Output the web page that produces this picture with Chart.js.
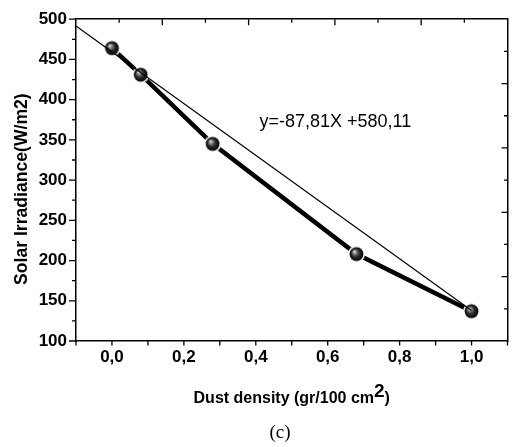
<!DOCTYPE html>
<html lang="en">
<head>
  <meta charset="UTF-8">
  <title>Solar irradiance vs dust density</title>
  <script src="https://cdn.jsdelivr.net/npm/chart.js"></script>
  <style>
    body, html {
      margin: 0;
      padding: 0;
      overflow: hidden;
      background: #fff;
    }
    canvas { display: block; }
  </style>
</head>
<body>
  <canvas id="dustChart" width="520" height="447"></canvas>

  <script>
    // Measured points
    const dustDensity = [0, 0.08, 0.28, 0.68, 1.0];
    const irradiance = [464, 431, 345, 208, 137];

    // Thin linear fit line, end points
    const fitX = [-0.1, 1.0];
    const fitY = [491.5, 138];

    const equationText = 'y=-87,81X +580,11';
    const equationAt = [0.41, 366]; // x value, y value of text baseline

    const yTitle = 'Solar Irradiance(W/m2)';
    const xTitleParts = ['Dust density (gr/100 cm', '2', ')'];
    const caption = '(c)';

    Chart.defaults.font.family = "'Liberation Sans', Arial, sans-serif";
    Chart.defaults.color = '#000';

    // Shiny ball marker with a white halo (gap in the line around markers)
    function sphere(r, ring) {
      const size = Math.ceil((r + ring) * 2);
      const c = document.createElement('canvas');
      c.width = c.height = size;
      const g = c.getContext('2d');
      const m = size / 2;
      g.fillStyle = '#fff';
      g.beginPath(); g.arc(m, m, r + ring, 0, Math.PI * 2); g.fill();
      const grad = g.createRadialGradient(m - r * 0.35, m - r * 0.4, 0, m, m, r);
      grad.addColorStop(0, '#ffffff');
      grad.addColorStop(0.2, '#a0a0a0');
      grad.addColorStop(0.55, '#303030');
      grad.addColorStop(1, '#000000');
      g.fillStyle = grad;
      g.beginPath(); g.arc(m, m, r, 0, Math.PI * 2); g.fill();
      return c;
    }
    const ball = sphere(6.9, 1.6);

    // Origin style tick marks: outward on bottom/left, inward on top/right
    const tickMarks = {
      id: 'tickMarks',
      afterDraw(chart) {
        const ctx = chart.ctx, a = chart.chartArea;
        const { x, y, x2, y2 } = chart.scales;
        ctx.save();
        ctx.strokeStyle = '#000';
        ctx.lineWidth = 1.3;
        ctx.beginPath();
        x.ticks.forEach(t => {
          const p = x.getPixelForValue(t.value);
          ctx.moveTo(p, a.bottom); ctx.lineTo(p, a.bottom + 4.5);
        });
        y.ticks.forEach(t => {
          const p = y.getPixelForValue(t.value);
          const len = t.value % 50 === 0 ? 7 : 4;
          ctx.moveTo(a.left, p); ctx.lineTo(a.left - len, p);
        });
        x2.ticks.forEach(t => {
          if (t.value <= x2.min || t.value >= x2.max) return;
          const p = x2.getPixelForValue(t.value);
          const len = t.value % 2 === 0 ? 6 : 3.5;
          ctx.moveTo(p, a.top); ctx.lineTo(p, a.top + len);
        });
        y2.ticks.forEach(t => {
          if (t.value <= y2.min || t.value >= y2.max) return;
          const p = y2.getPixelForValue(t.value);
          const len = t.value % 2 === 0 ? 6 : 3.5;
          ctx.moveTo(a.right, p); ctx.lineTo(a.right - len, p);
        });
        ctx.stroke();
        ctx.restore();
      }
    };

    // Equation, axis titles (x has a superscript), and caption
    const extraText = {
      id: 'extraText',
      afterDraw(chart) {
        const ctx = chart.ctx, a = chart.chartArea;
        const { x, y } = chart.scales;
        ctx.save();
        ctx.fillStyle = '#000';
        ctx.textBaseline = 'alphabetic';

        ctx.font = "18px 'Liberation Sans', Arial, sans-serif";
        ctx.textAlign = 'left';
        ctx.fillText(equationText, x.getPixelForValue(equationAt[0]), y.getPixelForValue(equationAt[1]));

        // y title, sits a little below the middle of the axis
        ctx.save();
        ctx.translate(27, (a.top + a.bottom) / 2 + 9);
        ctx.rotate(-Math.PI / 2);
        ctx.textAlign = 'center';
        ctx.font = "bold 17.6px 'Liberation Sans', Arial, sans-serif";
        ctx.fillText(yTitle, 0, 0);
        ctx.restore();

        const mainFont = "bold 16px 'Liberation Sans', Arial, sans-serif";
        const supFont = "bold 19px 'Liberation Sans', Arial, sans-serif";
        ctx.font = mainFont;
        const w0 = ctx.measureText(xTitleParts[0]).width;
        const w2 = ctx.measureText(xTitleParts[2]).width;
        ctx.font = supFont;
        const w1 = ctx.measureText(xTitleParts[1]).width;
        let sx = (a.left + a.right) / 2 - (w0 + w1 + w2) / 2;
        const base = a.bottom + 62;
        ctx.font = mainFont;
        ctx.fillText(xTitleParts[0], sx, base);
        sx += w0;
        ctx.font = supFont;
        ctx.fillText(xTitleParts[1], sx, base - 6);
        sx += w1;
        ctx.font = mainFont;
        ctx.fillText(xTitleParts[2], sx, base);

        ctx.font = "19px 'Liberation Serif', 'Times New Roman', serif";
        ctx.textAlign = 'center';
        ctx.fillText(caption, 280, 438);
        ctx.restore();
      }
    };

    const ctx = document.getElementById('dustChart').getContext('2d');
    new Chart(ctx, {
      type: 'line',
      data: {
        datasets: [
          {
            label: 'Fit',
            data: fitX.map((v, i) => ({ x: v, y: fitY[i] })),
            borderColor: '#000',
            borderWidth: 1.2,
            pointRadius: 0,
            fill: false
          },
          {
            label: 'Irradiance',
            data: dustDensity.map((v, i) => ({ x: v, y: irradiance[i] })),
            borderColor: '#000',
            borderWidth: 4.5,
            pointStyle: ball,
            pointRadius: 8,
            fill: false
          }
        ]
      },
      options: {
        responsive: false,
        animation: false,
        layout: { padding: 0 },
        scales: {
          x: {
            type: 'linear',
            position: 'bottom',
            min: -0.1,
            max: 1.1,
            afterFit: s => { s.height = 106; },
            grid: { display: false, drawTicks: false },
            border: { display: true, color: '#000', width: 1.5 },
            ticks: {
              stepSize: 0.1,
              autoSkip: false,
              maxRotation: 0,
              padding: 6,
              font: { size: 17, weight: 'bold' },
              callback: v => {
                const k = Math.round(v * 10);
                return (k >= 0 && k <= 10 && k % 2 === 0) ? (k / 10).toFixed(1).replace('.', ',') : '';
              }
            }
          },
          y: {
            type: 'linear',
            position: 'left',
            min: 100,
            max: 500,
            afterFit: s => { s.width = 76; },
            grid: { display: false, drawTicks: false },
            border: { display: true, color: '#000', width: 1.5 },
            ticks: {
              stepSize: 25,
              autoSkip: false,
              padding: 9,
              font: { size: 17, weight: 'bold' },
              callback: v => (v % 50 === 0 ? v : '')
            }
          },
          x2: {
            type: 'linear',
            axis: 'x',
            position: 'top',
            min: 0,
            max: 10,
            afterFit: s => { s.height = 13; },
            grid: { display: false, drawTicks: false },
            border: { display: true, color: '#000', width: 1.5 },
            ticks: { display: false, stepSize: 1 }
          },
          y2: {
            type: 'linear',
            axis: 'y',
            position: 'right',
            min: 0,
            max: 10,
            afterFit: s => { s.width = 3; },
            grid: { display: false, drawTicks: false },
            border: { display: true, color: '#000', width: 1.5 },
            ticks: { display: false, stepSize: 1 }
          }
        },
        plugins: {
          legend: { display: false },
          tooltip: { enabled: false }
        }
      },
      plugins: [tickMarks, extraText]
    });
  </script>
</body>
</html>
